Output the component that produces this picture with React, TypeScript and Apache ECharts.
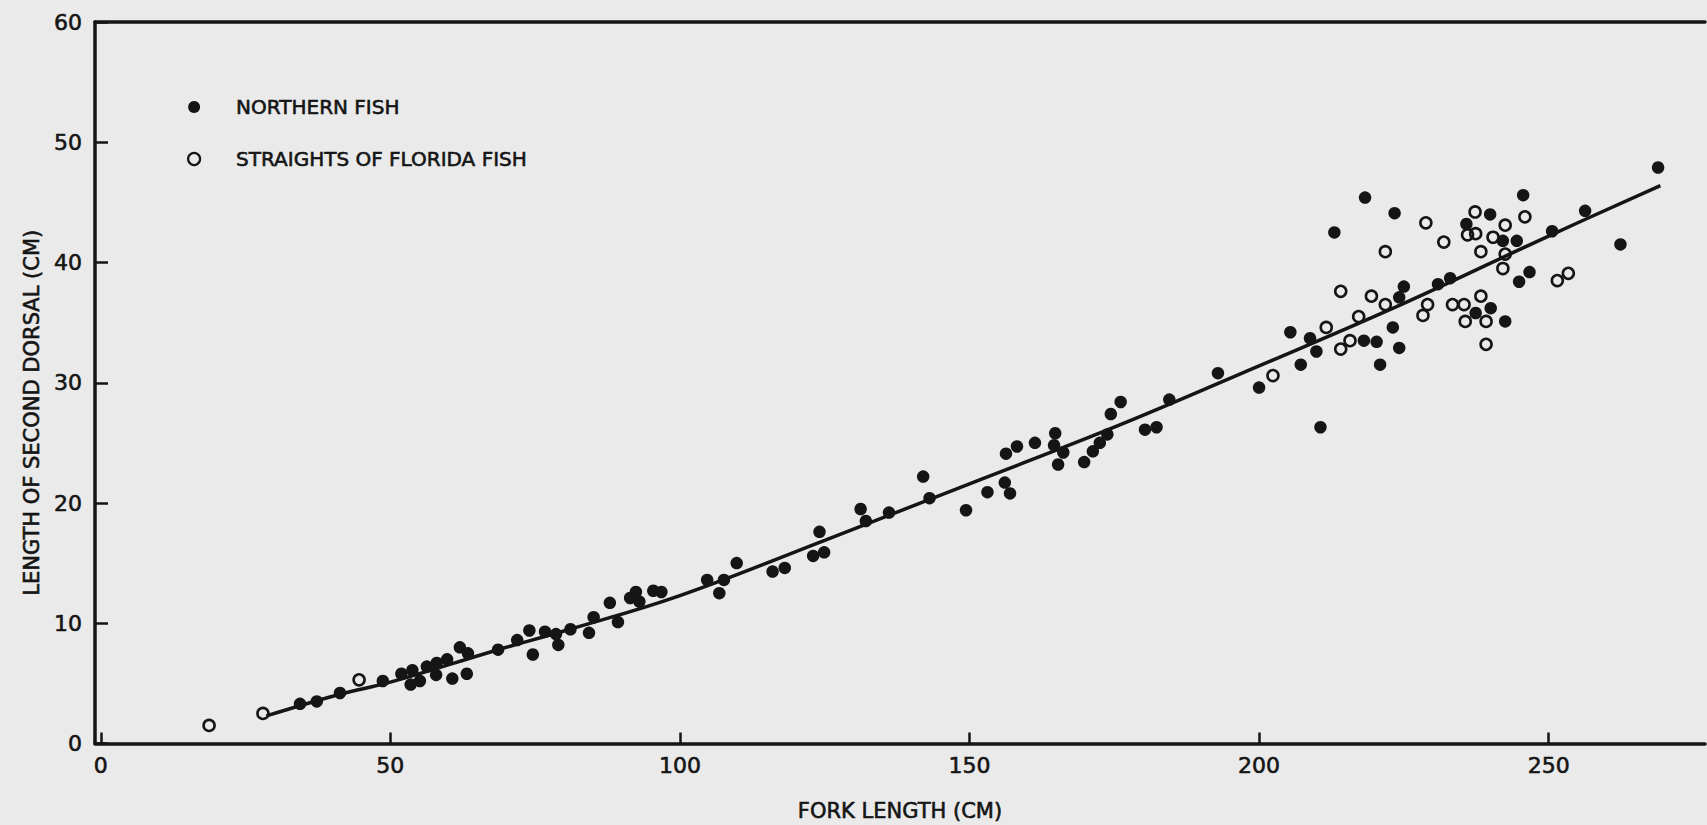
import React, { useEffect, useRef } from "react";
import * as echarts from "echarts";

const xTickValues = [0, 50, 100, 150, 200, 250];
const yTickInterval = 10;

const northernFish: [number, number][] = [
  [34.4, 3.3], [37.3, 3.5], [41.3, 4.2], [48.7, 5.2], [51.9, 5.8], [53.8, 6.1], [53.5, 4.9], [55.1, 5.2],
  [56.3, 6.4], [58.0, 6.7], [59.8, 7.0], [57.9, 5.7], [60.7, 5.4], [62.0, 8.0], [63.4, 7.5], [63.2, 5.8],
  [68.6, 7.8], [71.9, 8.6], [74.0, 9.4], [74.6, 7.4], [76.7, 9.3], [78.6, 9.1], [79.0, 8.2], [81.1, 9.5],
  [84.3, 9.2], [85.1, 10.5], [87.9, 11.7], [89.3, 10.1], [91.4, 12.1], [92.4, 12.6], [93.0, 11.8], [95.4, 12.7],
  [96.8, 12.6],
  [104.7, 13.6], [107.6, 13.6], [106.8, 12.5], [109.8, 15.0], [116.0, 14.3], [118.1, 14.6], [123.0, 15.6],
  [124.9, 15.9], [124.1, 17.6], [131.2, 19.5], [132.1, 18.5], [136.1, 19.2], [142.0, 22.2], [143.1, 20.4],
  [149.4, 19.4], [153.1, 20.9], [156.3, 24.1], [158.2, 24.7], [156.1, 21.7], [157.0, 20.8], [161.3, 25.0],
  [164.8, 25.8], [164.6, 24.8], [166.2, 24.2], [165.3, 23.2], [169.8, 23.4], [171.3, 24.3], [172.5, 25.0],
  [173.8, 25.7], [174.4, 27.4], [176.1, 28.4], [180.3, 26.1], [182.3, 26.3],
  [184.5, 28.6], [192.9, 30.8], [200.0, 29.6], [205.4, 34.2], [207.2, 31.5], [208.8, 33.7], [209.9, 32.6],
  [213.0, 42.5], [218.3, 45.4], [218.1, 33.5], [220.3, 33.4], [220.9, 31.5], [223.4, 44.1], [223.1, 34.6],
  [224.2, 37.1], [224.2, 32.9], [225.0, 38.0], [210.6, 26.3],
  [230.9, 38.2], [233.0, 38.7], [235.8, 43.2], [239.9, 44.0], [237.4, 35.8], [240.0, 36.2], [242.1, 41.8],
  [244.5, 41.8], [245.6, 45.6], [244.9, 38.4], [246.7, 39.2], [242.5, 35.1], [250.6, 42.6], [256.3, 44.3],
  [262.4, 41.5], [268.9, 47.9],
];

const floridaFish: [number, number][] = [
  [18.7, 1.5], [28.0, 2.5], [44.6, 5.3],
  [202.4, 30.6], [211.6, 34.6], [214.1, 37.6], [214.1, 32.8], [215.7, 33.5], [217.2, 35.5], [219.4, 37.2],
  [221.8, 40.9], [221.8, 36.5], [228.8, 43.3], [228.3, 35.6], [229.1, 36.5],
  [231.9, 41.7], [233.4, 36.5], [235.4, 36.5], [235.6, 35.1], [237.3, 44.2], [236.0, 42.3], [237.4, 42.4],
  [238.3, 40.9], [240.4, 42.1], [238.3, 37.2], [239.2, 35.1], [239.2, 33.2], [242.5, 43.1], [242.5, 40.7],
  [242.1, 39.5], [245.9, 43.8], [251.5, 38.5], [253.4, 39.1],
];

const fittedCurve: [number, number][] = [
  [28.6, 2.3], [41.3, 4.1], [50, 5.1], [68.6, 7.8], [81, 9.5], [100, 12.3], [125, 16.9],
  [150, 21.6], [175, 26.3], [200, 31.4], [225, 36.6], [250, 42.2], [269.3, 46.4],
];

const INK = "#151515";
const FONT = "'DejaVu Sans', sans-serif";
const heavy = { textBorderColor: INK, textBorderWidth: 0.6 };

export default function App() {
  const ref = useRef<HTMLDivElement>(null);

  useEffect(() => {
    if (!ref.current) return;
    const chart = echarts.init(ref.current, null, { renderer: "svg" });
    chart.setOption({
      animation: false,
      backgroundColor: "#eaeaea",
      grid: { left: 95, right: 2, top: 22, bottom: 81.5, containLabel: false, outerBoundsMode: "none" },
      legend: {
        data: [
          { name: "NORTHERN FISH", icon: "circle" },
          {
            name: "STRAIGHTS OF FLORIDA FISH",
            icon: "circle",
            itemStyle: { color: "rgba(0,0,0,0)", borderColor: INK, borderWidth: 2.2 },
          },
        ],
        orient: "vertical",
        left: 187,
        top: 95,
        padding: 0,
        itemWidth: 12,
        itemHeight: 12,
        itemGap: 28,
        selectedMode: false,
        textStyle: { fontSize: 20, fontFamily: FONT, color: INK, lineHeight: 24, padding: [0, 0, 0, 31], ...heavy },
      },
      xAxis: [
        {
          type: "value",
          min: -1,
          max: 277,
          position: "bottom",
          name: "FORK LENGTH (CM)",
          nameLocation: "middle",
          nameGap: 57,
          nameTextStyle: { fontSize: 21, fontFamily: FONT, color: INK, ...heavy },
          axisLine: { show: true, onZero: false, lineStyle: { color: INK, width: 3.5 } },
          axisTick: { show: true, inside: true, length: 11, customValues: xTickValues, lineStyle: { color: INK, width: 2.5 } },
          axisLabel: { customValues: xTickValues, fontSize: 22, fontFamily: FONT, color: INK, margin: 11, ...heavy },
          splitLine: { show: false },
        },
        {
          type: "value",
          min: -1,
          max: 277,
          position: "top",
          axisLine: { show: true, onZero: false, lineStyle: { color: INK, width: 3.5 } },
          axisTick: { show: false },
          axisLabel: { show: false },
          splitLine: { show: false },
        },
      ],
      yAxis: {
        type: "value",
        min: 0,
        max: 60,
        interval: yTickInterval,
        name: "LENGTH OF SECOND DORSAL (CM)",
        nameLocation: "middle",
        nameGap: 52,
        nameTextStyle: { fontSize: 21, fontFamily: FONT, color: INK, padding: [0, 60, 0, 0], ...heavy },
        axisLine: { show: true, onZero: false, lineStyle: { color: INK, width: 3.5 } },
        axisTick: { show: true, inside: true, length: 13, lineStyle: { color: INK, width: 2.5 } },
        axisLabel: { fontSize: 22, fontFamily: FONT, color: INK, margin: 13, ...heavy },
        splitLine: { show: false },
      },
      series: [
        {
          name: "fitted curve",
          type: "line",
          data: fittedCurve,
          smooth: 0.4,
          symbol: "none",
          showSymbol: false,
          silent: true,
          lineStyle: { color: INK, width: 3.5 },
          z: 2,
        },
        {
          name: "NORTHERN FISH",
          type: "scatter",
          data: northernFish,
          symbol: "circle",
          symbolSize: 12.5,
          itemStyle: { color: INK, opacity: 1 },
          z: 3,
        },
        {
          name: "STRAIGHTS OF FLORIDA FISH",
          type: "scatter",
          data: floridaFish,
          symbol: "circle",
          symbolSize: 11,
          itemStyle: { color: "rgba(0,0,0,0)", borderColor: INK, borderWidth: 2.6, opacity: 1 },
          z: 3,
        },
      ],
    });
    return () => chart.dispose();
  }, []);

  return (
    <div
      ref={ref}
      style={{ position: "fixed", left: 0, top: 0, width: 1707, height: 825, background: "#eaeaea" }}
    />
  );
}
